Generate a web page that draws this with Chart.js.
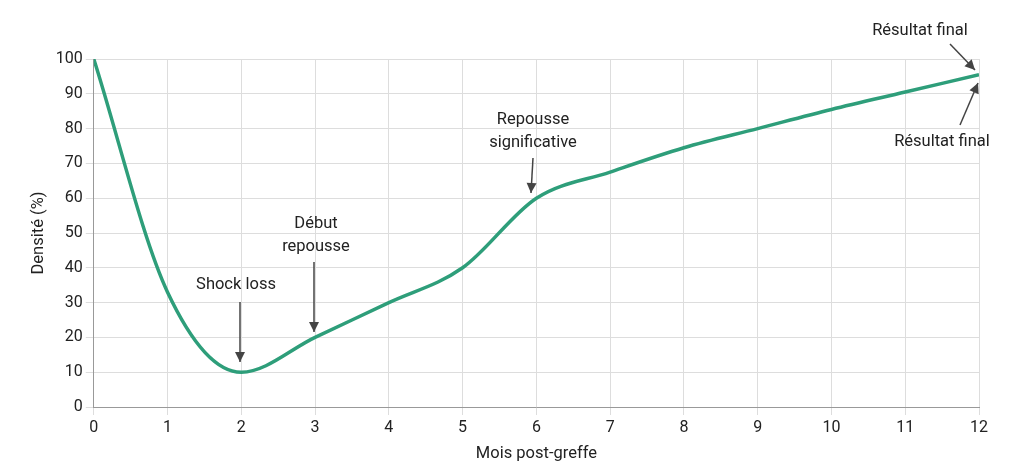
<!DOCTYPE html>
<html><head><meta charset="utf-8">
<script src="https://cdn.jsdelivr.net/npm/chart.js@4"></script>
<style>html,body{margin:0;padding:0;background:#fff}#w{width:1024px;height:474px}</style>
</head><body><div id="w"><canvas id="c"></canvas></div>
<script>
const months=[0,1,2,3,4,5,6,7,8,9,10,11,12];
const density=[100,33,10,20,30,40,60,67.5,74.5,80,85.5,90.5,95.5];
const notes=[
 {lines:["Shock loss"],tx:236,ty:285,from:[240,302],to:[240,362]},
 {lines:["Début","repousse"],tx:316,ty:224,from:[314,262],to:[314,332]},
 {lines:["Repousse","significative"],tx:533,ty:120,from:[533,158],to:[531,193]},
 {lines:["Résultat final"],tx:920,ty:31,from:[950,44],to:[975,70]},
 {lines:["Résultat final"],tx:942,ty:142,from:[960,125],to:[978,83]}
];
const annot={id:'annot',afterDatasetsDraw(ch){const c=ch.ctx;c.save();
 c.font='16.5px Roboto';c.textAlign='center';c.textBaseline='middle';
 notes.forEach(n=>{c.fillStyle='#222';n.lines.forEach((l,i)=>c.fillText(l,n.tx,n.ty+i*23));
  const [x1,y1]=n.from,[x2,y2]=n.to;c.strokeStyle='#444';c.fillStyle='#444';c.lineWidth=1.5;
  c.beginPath();c.moveTo(x1,y1);c.lineTo(x2,y2);c.stroke();
  const a=Math.atan2(y2-y1,x2-x1),L=10,W=5;c.beginPath();c.moveTo(x2,y2);
  c.lineTo(x2-L*Math.cos(a)+W*Math.sin(a),y2-L*Math.sin(a)-W*Math.cos(a));
  c.lineTo(x2-L*Math.cos(a)-W*Math.sin(a),y2-L*Math.sin(a)+W*Math.cos(a));c.closePath();c.fill();});
 c.restore();}};
new Chart(document.getElementById('c'),{type:'line',
 data:{datasets:[{data:months.map((m,i)=>({x:m,y:density[i]})),borderColor:'#2e9e7a',borderWidth:3.5,pointRadius:0,cubicInterpolationMode:'monotone'}]},
 options:{responsive:true,maintainAspectRatio:false,animation:false,
  layout:{padding:{left:25,right:45,top:59,bottom:6}},
  plugins:{legend:{display:false},tooltip:{enabled:false}},
  scales:{x:{type:'linear',min:0,max:12,ticks:{stepSize:1,color:'#222',font:{family:'Roboto',size:16}},grid:{color:'#ddd'},border:{color:'#999'},
    title:{display:true,text:'Mois post-greffe',color:'#222',font:{family:'Roboto',size:16.5}}},
   y:{min:0,max:100,ticks:{stepSize:10,color:'#222',font:{family:'Roboto',size:16}},grid:{color:'#ddd'},border:{color:'#999'},
    title:{display:true,text:'Densité (%)',color:'#222',font:{family:'Roboto',size:16.5}}}}},
 plugins:[annot]});
</script></body></html>
